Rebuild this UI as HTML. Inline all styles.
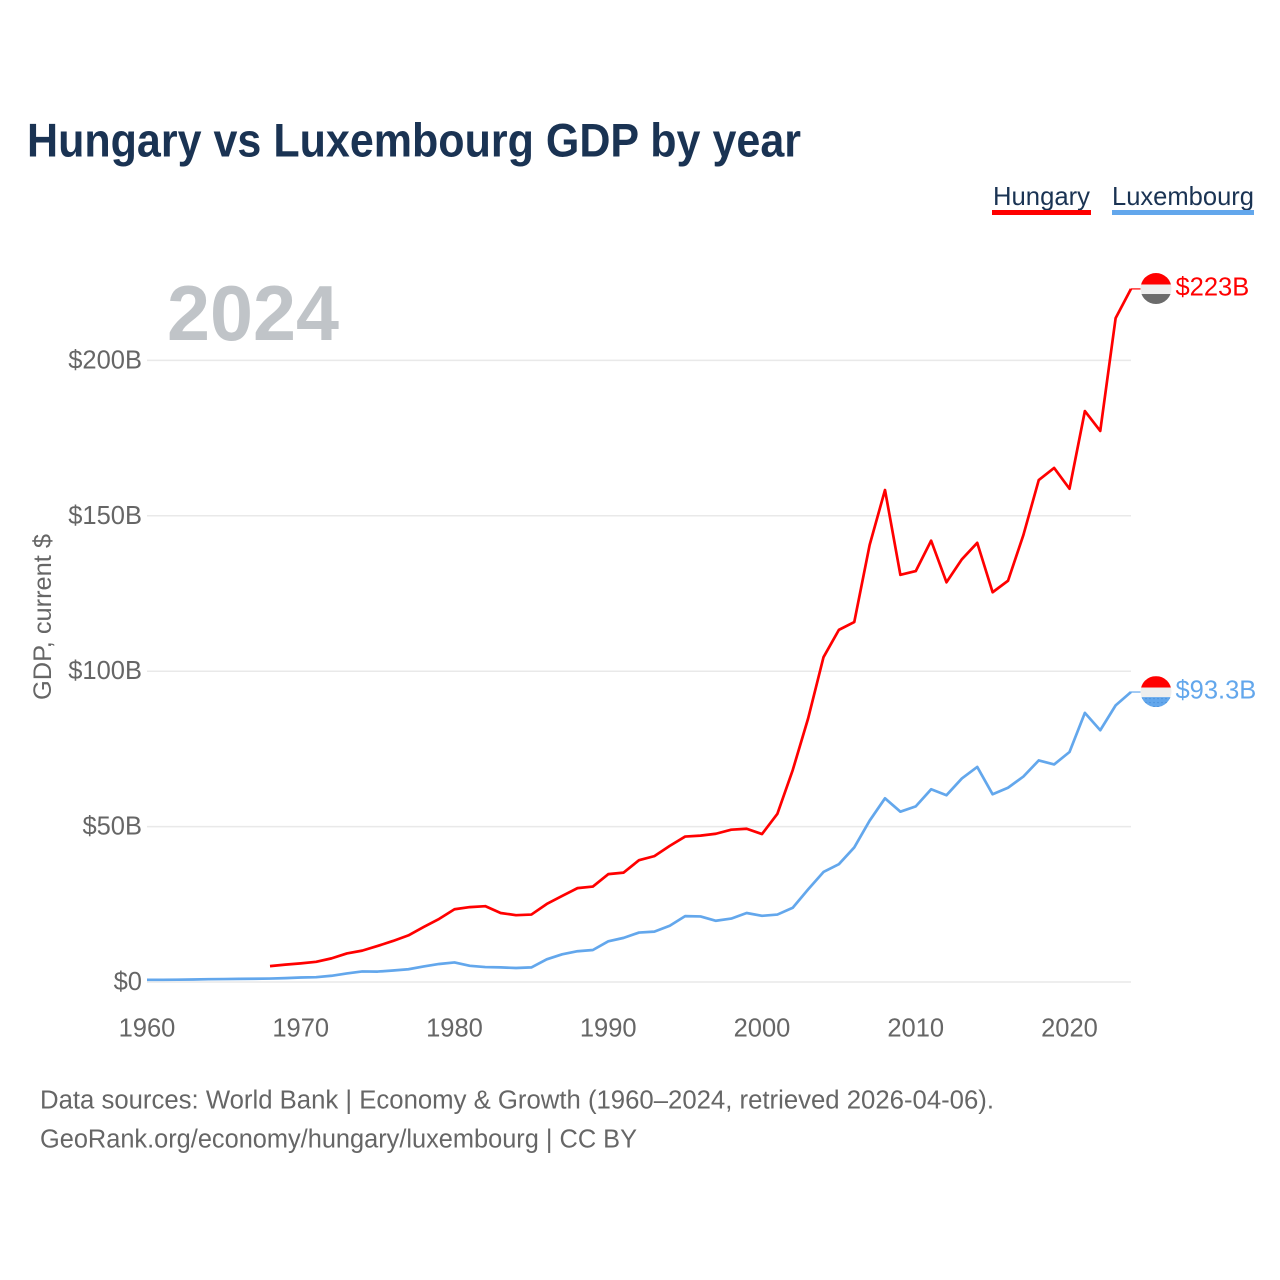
<!DOCTYPE html>
<html lang="en">
<head>
<meta charset="utf-8">
<title>Hungary vs Luxembourg GDP by year</title>
<style>
html,body{margin:0;padding:0;background:#fff;}
svg{display:block;font-family:"Liberation Sans",sans-serif;}
</style>
</head>
<body>
<svg id="chart" xmlns="http://www.w3.org/2000/svg" width="1280" height="1280" viewBox="0 0 1280 1280">
  <rect x="0" y="0" width="1280" height="1280" fill="#ffffff"/>
  <text x="27" y="156.5" font-size="47" font-weight="700" fill="#1a3353" textLength="774" lengthAdjust="spacingAndGlyphs">Hungary vs Luxembourg GDP by year</text>

  <g>
    <g>
      <text x="993" y="205" font-size="26" fill="#1a3353" textLength="97" lengthAdjust="spacingAndGlyphs">Hungary</text>
      <rect x="992" y="210" width="99" height="5" fill="#ff0000"/>
    </g>
    <g>
      <text x="1112" y="205" font-size="26" fill="#1a3353" textLength="142" lengthAdjust="spacingAndGlyphs">Luxembourg</text>
      <rect x="1112" y="210" width="142" height="5" fill="#63a7ec"/>
    </g>
  </g>

  <text x="167" y="340" font-size="78" font-weight="700" fill="#c0c4c8" textLength="172" lengthAdjust="spacingAndGlyphs">2024</text>

  <g id="grid"></g>
  <g id="yticks"></g>
  <g id="xticks"></g>
  <text transform="translate(51,700) rotate(-90)" x="0" y="0" font-size="25" fill="#666666" textLength="166" lengthAdjust="spacingAndGlyphs">GDP, current $</text>

  <g id="series"></g>
  <g id="ends"></g>

  <g>
    <text x="40" y="1108.5" font-size="25.5" fill="#666666" textLength="954" lengthAdjust="spacingAndGlyphs">Data sources: World Bank | Economy &amp; Growth (1960–2024, retrieved 2026-04-06).</text>
    <text x="40" y="1147.5" font-size="25.5" fill="#666666" textLength="597" lengthAdjust="spacingAndGlyphs">GeoRank.org/economy/hungary/luxembourg | CC BY</text>
  </g>
</svg>
<script>
const startYear = 1960;
const xTickYears = [1960, 1970, 1980, 1990, 2000, 2010, 2020];
const yTickValues = [0, 50, 100, 150, 200];
const yTickLabels = ["$0", "$50B", "$100B", "$150B", "$200B"];

const hungaryStartYear = 1968;
const hungaryValues = [5.1, 5.6, 6.0, 6.5, 7.6, 9.2, 10.1, 11.6, 13.2, 15.0, 17.7, 20.3,
  23.4, 24.1, 24.4, 22.2, 21.5, 21.7, 25.1, 27.7, 30.2, 30.7,
  34.7, 35.2, 39.2, 40.5, 43.8, 46.8, 47.1, 47.7, 49.0, 49.3,
  47.6, 54.1, 68.2, 84.8, 104.5, 113.3, 115.8, 140.6, 158.3, 131.0,
  132.2, 142.0, 128.6, 136.0, 141.3, 125.4, 129.1, 143.8, 161.5, 165.4,
  158.7, 183.7, 177.3, 213.6, 223.0];
const luxembourgValues = [0.7, 0.7, 0.75, 0.8, 0.9, 0.95, 1.0, 1.05, 1.1, 1.25,
  1.45, 1.55, 2.0, 2.75, 3.4, 3.35, 3.7, 4.1, 5.0, 5.8,
  6.3, 5.2, 4.8, 4.7, 4.5, 4.7, 7.3, 8.9, 9.9, 10.3,
  13.1, 14.2, 15.9, 16.2, 18.1, 21.2, 21.1, 19.7, 20.4, 22.2,
  21.3, 21.7, 23.9, 29.8, 35.4, 37.9, 43.3, 51.9, 59.1, 54.8,
  56.5, 62.0, 60.1, 65.5, 69.2, 60.4, 62.5, 66.1, 71.3, 70.0,
  74.0, 86.6, 81.0, 89.0, 93.3];
const hungaryEndLabel = "$223B";
const luxembourgEndLabel = "$93.3B";

const NS = "http://www.w3.org/2000/svg";
function xScale(year) { return 147 + (year - startYear) * 15.375; }
function yScale(value) { return 982 - value * 3.108; }
function make(tag, parent, attrs) {
  const el = document.createElementNS(NS, tag);
  for (const k in attrs) el.setAttribute(k, attrs[k]);
  parent.appendChild(el);
  return el;
}
const gridG = document.getElementById("grid");
const yG = document.getElementById("yticks");
const xG = document.getElementById("xticks");
const seriesG = document.getElementById("series");
const endsG = document.getElementById("ends");
const lastYear = startYear + luxembourgValues.length - 1;

yTickValues.forEach(function (v, i) {
  const line = make("line", gridG, {x1: xScale(startYear), x2: xScale(lastYear), y1: yScale(v), y2: yScale(v), stroke: "#e9e9e9", "stroke-width": 1.5});
  
  
  const t = make("text", yG, {x: 142, y: yScale(v) + 8, "text-anchor": "end", "font-size": 25.5, fill: "#666666"});
  t.textContent = yTickLabels[i];
  
  
});

xTickYears.forEach(function (yr) {
  const t = make("text", xG, {x: xScale(yr), y: 1036.5, "text-anchor": "middle", "font-size": 25.5, fill: "#666666"});
  t.textContent = yr;
  
  
});

function linePoints(values, firstYear) {
  return values.map(function (v, i) {
    return xScale(firstYear + i).toFixed(2) + "," + yScale(v).toFixed(2);
  }).join(" ");
}

const lineHungary = make("polyline", seriesG, {points: linePoints(hungaryValues, hungaryStartYear), fill: "none", stroke: "#ff0000", "stroke-width": 2.7, "stroke-linejoin": "round"});


const lineLuxembourg = make("polyline", seriesG, {points: linePoints(luxembourgValues, startYear), fill: "none", stroke: "#63a7ec", "stroke-width": 2.7, "stroke-linejoin": "round"});



function endMarker(value, color, label, bottomColor, dotted, key) {
  const lineY = yScale(value);
  const cy = lineY - 0.4;
  const cx = 1156, r = 15.5;
  const conn = make("line", endsG, {x1: xScale(lastYear), x2: cx - r, y1: lineY, y2: lineY, stroke: color, "stroke-width": 1.2});
  
  
  const clipId = "flag-clip-" + key;
  const defs = make("defs", endsG, {});
  const clip = make("clipPath", defs, {id: clipId});
  make("circle", clip, {cx: cx, cy: cy, r: r});
  const flag = make("g", endsG, {"clip-path": "url(#" + clipId + ")"});
  
  
  make("rect", flag, {x: cx - r, y: cy - r, width: 2 * r, height: 11.5, fill: "#ff0000"});
  make("rect", flag, {x: cx - r, y: cy - r + 11.5, width: 2 * r, height: 9.5, fill: "#eeeeee"});
  make("rect", flag, {x: cx - r, y: cy - r + 21, width: 2 * r, height: 10, fill: bottomColor});
  if (dotted) {
    for (let dx = -14; dx <= 14; dx += 4) {
      for (let dy = 7; dy <= 15; dy += 4) {
        make("circle", flag, {cx: cx + dx, cy: cy + dy, r: 0.7, fill: "#4a8fd8"});
      }
    }
  }
  const t = make("text", endsG, {x: 1175.5, y: lineY + 6.5, "font-size": 25.5, fill: color});
  t.textContent = label;
  
  
}
endMarker(hungaryValues[hungaryValues.length - 1], "#ff0000", hungaryEndLabel, "#6b6b6b", false, "hu");
endMarker(luxembourgValues[luxembourgValues.length - 1], "#63a7ec", luxembourgEndLabel, "#63a7ec", true, "lu");
</script>
</body>
</html>
